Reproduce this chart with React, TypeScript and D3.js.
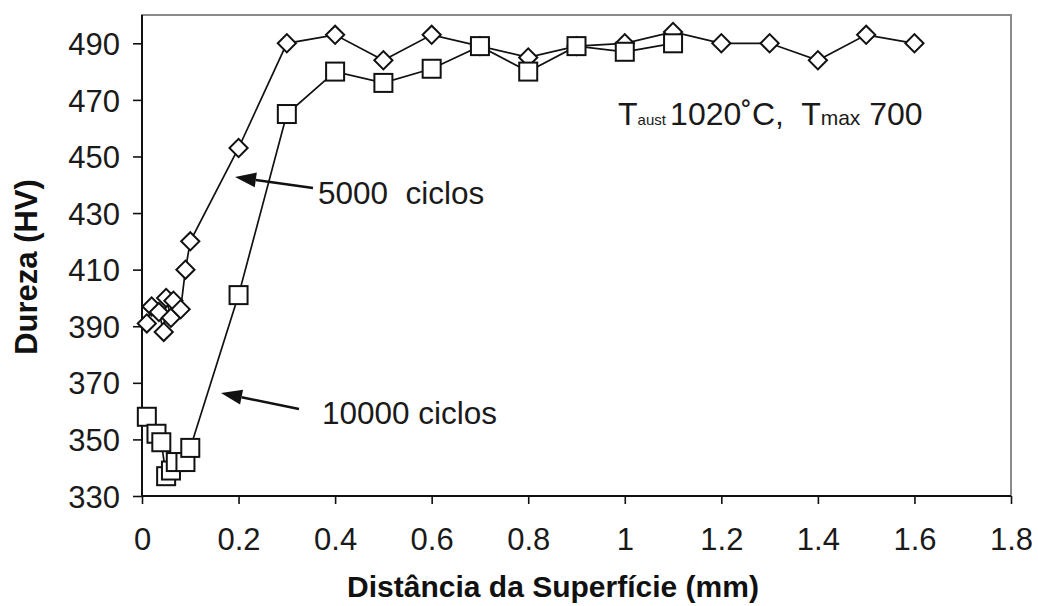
import React, { useEffect, useRef } from "react";
import * as d3 from "d3";

const distance5000 = [0.01, 0.02, 0.035, 0.045, 0.05, 0.06, 0.065, 0.08, 0.09, 0.1, 0.2, 0.3, 0.4, 0.5, 0.6, 0.7, 0.8, 0.9, 1.0, 1.1, 1.2, 1.3, 1.4, 1.5, 1.6];
const hardness5000 = [391, 397, 395, 388, 400, 393, 399, 396, 410, 420, 453, 490, 493, 484, 493, 489, 485, 489, 490, 494, 490, 490, 484, 493, 490];

const distance10000 = [0.01, 0.03, 0.04, 0.05, 0.06, 0.07, 0.09, 0.1, 0.2, 0.3, 0.4, 0.5, 0.6, 0.7, 0.8, 0.9, 1.0, 1.1];
const hardness10000 = [358, 352, 349, 337, 339, 342, 342, 347, 401, 465, 480, 476, 481, 489, 480, 489, 487, 490];

const xTicks = [0, 0.2, 0.4, 0.6, 0.8, 1, 1.2, 1.4, 1.6, 1.8];
const yTicks = [330, 350, 370, 390, 410, 430, 450, 470, 490];

const FONT = "'Liberation Sans', Arial, Helvetica, sans-serif";

export default function App() {
  const svgRef = useRef<SVGSVGElement>(null);

  useEffect(() => {
    const svg = d3.select(svgRef.current);
    svg.selectAll("*").remove();
    const width = 1038;
    const height = 606;
    const left = 142, right = 1011, top = 15, bottom = 496;

    const x = d3.scaleLinear().domain([0, 1.8]).range([left, right]);
    const y = d3.scaleLinear().domain([330, 500]).range([bottom, top]);

    svg.append("rect").attr("width", width).attr("height", height).attr("fill", "#fff");

    // plot area frame
    svg.append("rect")
      .attr("x", left).attr("y", top)
      .attr("width", right - left).attr("height", bottom - top)
      .attr("fill", "none").attr("stroke", "#8a8a8a").attr("stroke-width", 2);

    // axes
    const xAxis = svg.append("g").attr("transform", `translate(0,${bottom})`)
      .call(d3.axisBottom(x).tickValues(xTicks).tickSize(8).tickSizeOuter(0).tickFormat(d3.format("")));
    const yAxis = svg.append("g").attr("transform", `translate(${left},0)`)
      .call(d3.axisLeft(y).tickValues(yTicks).tickSize(9).tickSizeOuter(0).tickFormat(d3.format("d")));
    [xAxis, yAxis].forEach((g) => {
      g.select(".domain").attr("stroke", "#111").attr("stroke-width", 2);
      g.selectAll(".tick line").attr("stroke", "#111").attr("stroke-width", 1.6);
      g.selectAll(".tick text").attr("font-family", FONT).attr("font-size", 31).attr("fill", "#1a1a1a");
    });
    yAxis.select(".domain").attr("d", `M0,${top}V${bottom}`);
    xAxis.select(".domain").attr("d", `M${left},0H${right}`);
    xAxis.selectAll(".tick text").attr("y", 0).attr("dy", 0).attr("transform", "translate(0,54)");
    yAxis.selectAll(".tick text").attr("x", -22).attr("dy", "0.36em");

    // series lines
    const line = d3.line<[number, number]>().x((d) => x(d[0])).y((d) => y(d[1]));
    const pts5000 = distance5000.map((d, i) => [d, hardness5000[i]] as [number, number]);
    const pts10000 = distance10000.map((d, i) => [d, hardness10000[i]] as [number, number]);

    svg.append("path").datum(pts5000).attr("d", line)
      .attr("fill", "none").attr("stroke", "#111").attr("stroke-width", 1.7);
    svg.append("path").datum(pts10000).attr("d", line)
      .attr("fill", "none").attr("stroke", "#111").attr("stroke-width", 1.7);

    // diamond markers (rotated squares)
    svg.append("g").selectAll("path").data(pts5000).join("path")
      .attr("transform", (d) => `translate(${x(d[0])},${y(d[1])}) rotate(45)`)
      .attr("d", d3.symbol().type(d3.symbolSquare).size(165)())
      .attr("fill", "#fff").attr("stroke", "#111").attr("stroke-width", 2);

    svg.append("g").selectAll("rect").data(pts10000).join("rect")
      .attr("x", (d) => x(d[0]) - 9).attr("y", (d) => y(d[1]) - 9)
      .attr("width", 18).attr("height", 18)
      .attr("fill", "#fff").attr("stroke", "#111").attr("stroke-width", 2);

    // axis titles
    svg.append("text").attr("x", 553).attr("y", 597).attr("text-anchor", "middle")
      .attr("font-family", FONT).attr("font-weight", "bold").attr("font-size", 30).attr("fill", "#111")
      .text("Distância da Superfície (mm)");
    svg.append("text").attr("transform", "translate(37,267) rotate(-90)").attr("text-anchor", "middle")
      .attr("font-family", FONT).attr("font-weight", "bold").attr("font-size", 31).attr("fill", "#111")
      .text("Dureza (HV)");

    // condition label
    const cond = svg.append("text").attr("x", 618).attr("y", 125)
      .attr("font-family", FONT).attr("font-size", 32).attr("fill", "#1a1a1a")
      .style("white-space", "pre");
    cond.append("tspan").text("T");
    cond.append("tspan").attr("font-size", 15).text("aust ");
    cond.append("tspan").text("1020˚C,  T");
    cond.append("tspan").attr("font-size", 21).text("max");
    cond.append("tspan").text(" 700");

    // arrow annotations
    const arrow = (x1: number, y1: number, x2: number, y2: number) => {
      const ang = Math.atan2(y2 - y1, x2 - x1);
      const len = 21, hw = 7.5;
      const bx = x2 - len * Math.cos(ang), by = y2 - len * Math.sin(ang);
      svg.append("line").attr("x1", x1).attr("y1", y1).attr("x2", bx).attr("y2", by)
        .attr("stroke", "#111").attr("stroke-width", 2.5);
      svg.append("polygon")
        .attr("points", [
          [x2, y2],
          [bx + hw * Math.sin(ang), by - hw * Math.cos(ang)],
          [bx - hw * Math.sin(ang), by + hw * Math.cos(ang)],
        ].map((p) => p.join(",")).join(" "))
        .attr("fill", "#111");
    };
    arrow(313, 188, 235, 177);
    arrow(299, 409, 221, 393);

    svg.append("text").attr("x", 318).attr("y", 204)
      .attr("font-family", FONT).attr("font-size", 31.5).attr("fill", "#1a1a1a")
      .style("white-space", "pre")
      .text("5000  ciclos");
    svg.append("text").attr("x", 322).attr("y", 424)
      .attr("font-family", FONT).attr("font-size", 31.5).attr("fill", "#1a1a1a")
      .text("10000 ciclos");
  }, []);

  return (
    <svg ref={svgRef} width={1038} height={606}
      style={{ position: "absolute", left: 0, top: 0, display: "block" }} />
  );
}
